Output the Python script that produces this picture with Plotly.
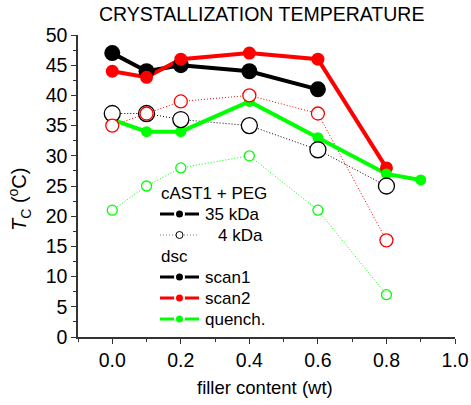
import plotly.graph_objects as go

# ---- data ----
x_35_scan1 = [0.0, 0.1, 0.2, 0.4, 0.6]
tc_35_scan1 = [47, 44, 45, 44, 41]
x_35_scan2 = [0.0, 0.1, 0.2, 0.4, 0.6, 0.8]
tc_35_scan2 = [44, 43, 46, 47, 46, 28]
x_35_quench = [0.0, 0.1, 0.2, 0.4, 0.6, 0.8, 0.9]
tc_35_quench = [36, 34, 34, 39, 33, 27, 26]
x_4 = [0.0, 0.1, 0.2, 0.4, 0.6, 0.8]
tc_4_scan1 = [37, 37, 36, 35, 31, 25]
tc_4_scan2 = [35, 37, 39, 40, 37, 16]
tc_4_quench = [21, 25, 28, 30, 21, 7]

legend_header_peg = "cAST1 + PEG"
legend_peg = ["35 kDa", "4 kDa"]
legend_header_dsc = "dsc"
legend_dsc = ["scan1", "scan2", "quench."]

BLACK = "#000000"
RED = "#FF0000"
GREEN = "#00FF00"
FONT = "Liberation Sans, Arial, sans-serif"

# plot-area geometry (pixels)
L, R, T, B = 78, 455, 35, 337
W, H = R - L, B - T


def px(x):
    return (x - L) / W


def py(y):
    return (B - y) / H


fig = go.Figure()

# dotted 4 kDa lines
for y, c in [(tc_4_scan1, BLACK), (tc_4_scan2, RED), (tc_4_quench, GREEN)]:
    fig.add_trace(go.Scatter(x=x_4, y=y, mode="lines", showlegend=False,
                             line=dict(color=c, width=1, dash="1px,2px"), hoverinfo="skip"))
# thick 35 kDa lines
for x, y, c in [(x_35_scan1, tc_35_scan1, BLACK), (x_35_scan2, tc_35_scan2, RED),
                (x_35_quench, tc_35_quench, GREEN)]:
    fig.add_trace(go.Scatter(x=x, y=y, mode="lines", showlegend=False,
                             line=dict(color=c, width=4), hoverinfo="skip"))
# filled markers
for x, y, c, s in [(x_35_scan1, tc_35_scan1, BLACK, 16), (x_35_scan2, tc_35_scan2, RED, 13),
                   (x_35_quench, tc_35_quench, GREEN, 11)]:
    fig.add_trace(go.Scatter(x=x, y=y, mode="markers", showlegend=False,
                             marker=dict(color=c, size=s, symbol="circle", line=dict(width=0))))
# open markers
for y, c, s in [(tc_4_scan1, BLACK, 16), (tc_4_scan2, RED, 13), (tc_4_quench, GREEN, 10)]:
    fig.add_trace(go.Scatter(x=x_4, y=y, mode="markers", showlegend=False,
                             marker=dict(color="white", size=s, symbol="circle",
                                         line=dict(color=c, width=1.3))))

# ---- manual legend ----
shapes = []
annotations = []
row_y = [193, 214, 235, 256, 277, 298, 319]
line_x0, line_x1, mark_x = 160, 199, 179.5


def legend_symbol(yrow, color, filled):
    if filled:
        shapes.append(dict(type="line", xref="paper", yref="paper",
                           x0=px(line_x0), x1=px(line_x1), y0=py(yrow), y1=py(yrow),
                           line=dict(color=color, width=3)))
        r = 4.5
        shapes.append(dict(type="circle", xref="paper", yref="paper",
                           xsizemode="pixel", ysizemode="pixel",
                           xanchor=px(mark_x), yanchor=py(yrow),
                           x0=-r, x1=r, y0=-r, y1=r, fillcolor=color,
                           line=dict(color="white", width=2)))
    else:
        shapes.append(dict(type="line", xref="paper", yref="paper",
                           x0=px(line_x0), x1=px(line_x1), y0=py(yrow), y1=py(yrow),
                           line=dict(color="#777", width=1, dash="1px,2px")))
        r = 3.5
        shapes.append(dict(type="circle", xref="paper", yref="paper",
                           xsizemode="pixel", ysizemode="pixel",
                           xanchor=px(mark_x), yanchor=py(yrow),
                           x0=-r, x1=r, y0=-r, y1=r, fillcolor="white",
                           line=dict(color=color, width=1)))


def legend_text(text, x, yrow):
    annotations.append(dict(text=text, xref="paper", yref="paper", x=px(x), y=py(yrow),
                            xanchor="left", yanchor="middle", showarrow=False,
                            font=dict(size=17)))


legend_text(legend_header_peg, 159, row_y[0])
legend_symbol(row_y[1], BLACK, True)
legend_text(legend_peg[0], 203, row_y[1])
legend_symbol(row_y[2], BLACK, False)
legend_text(legend_peg[1], 216, row_y[2])
legend_text(legend_header_dsc, 159, row_y[3])
for i, (name, c) in enumerate(zip(legend_dsc, [BLACK, RED, GREEN])):
    legend_symbol(row_y[4 + i], c, True)
    legend_text(name, 203, row_y[4 + i])

annotations += [
    dict(text="CRYSTALLIZATION TEMPERATURE", xref="paper", yref="paper",
         x=px(261), y=py(14), xanchor="center", yanchor="middle",
         showarrow=False, font=dict(size=19.5)),
    dict(text="<i>T</i><sub>C</sub> (<sup>o</sup>C)", xref="paper", yref="paper",
         x=px(19), y=py(200), xanchor="center", yanchor="middle",
         textangle=-90, showarrow=False, font=dict(size=20)),
    dict(text="filler content (wt)", xref="paper", yref="paper",
         x=px(265), y=py(387), xanchor="center", yanchor="middle",
         showarrow=False, font=dict(size=18.5)),
]

AX = "#333"
axis_common = dict(showgrid=False, zeroline=False, showline=True, linecolor=AX,
                   linewidth=1.5, tickcolor=AX, tickwidth=1.2, automargin=False)

fig.update_layout(
    width=471, height=405,
    margin=dict(l=L, r=471 - R, t=T, b=405 - B),
    paper_bgcolor="white", plot_bgcolor="white",
    font=dict(family=FONT, size=19.5, color="black"),
    showlegend=False,
    xaxis=dict(range=[-0.1, 1.0], tick0=0, dtick=0.2, tickformat=".1f",
               ticks="outside", ticklen=5,
               minor=dict(dtick=0.1, tick0=0, ticks="outside", ticklen=3, tickcolor=AX),
               **axis_common),
    yaxis=dict(range=[0, 50], tick0=0, dtick=5, ticks="outside", ticklen=5,
               minor=dict(dtick=2.5, tick0=0, ticks="outside", ticklen=3, tickcolor=AX),
               **axis_common),
    xaxis2=dict(overlaying="x", side="top", anchor="y", range=[-0.1, 1.0], tick0=0, dtick=0.2,
                ticks="inside", ticklen=5, showticklabels=False,
                minor=dict(dtick=0.1, tick0=0, ticks="inside", ticklen=3, tickcolor=AX),
                **axis_common),
    yaxis2=dict(overlaying="y", side="right", anchor="x", range=[0, 50], tick0=0, dtick=5,
                ticks="inside", ticklen=5, showticklabels=False,
                minor=dict(dtick=2.5, tick0=0, ticks="inside", ticklen=3, tickcolor=AX),
                **axis_common),
    shapes=shapes,
    annotations=annotations,
)

fig.write_html("out.html")
